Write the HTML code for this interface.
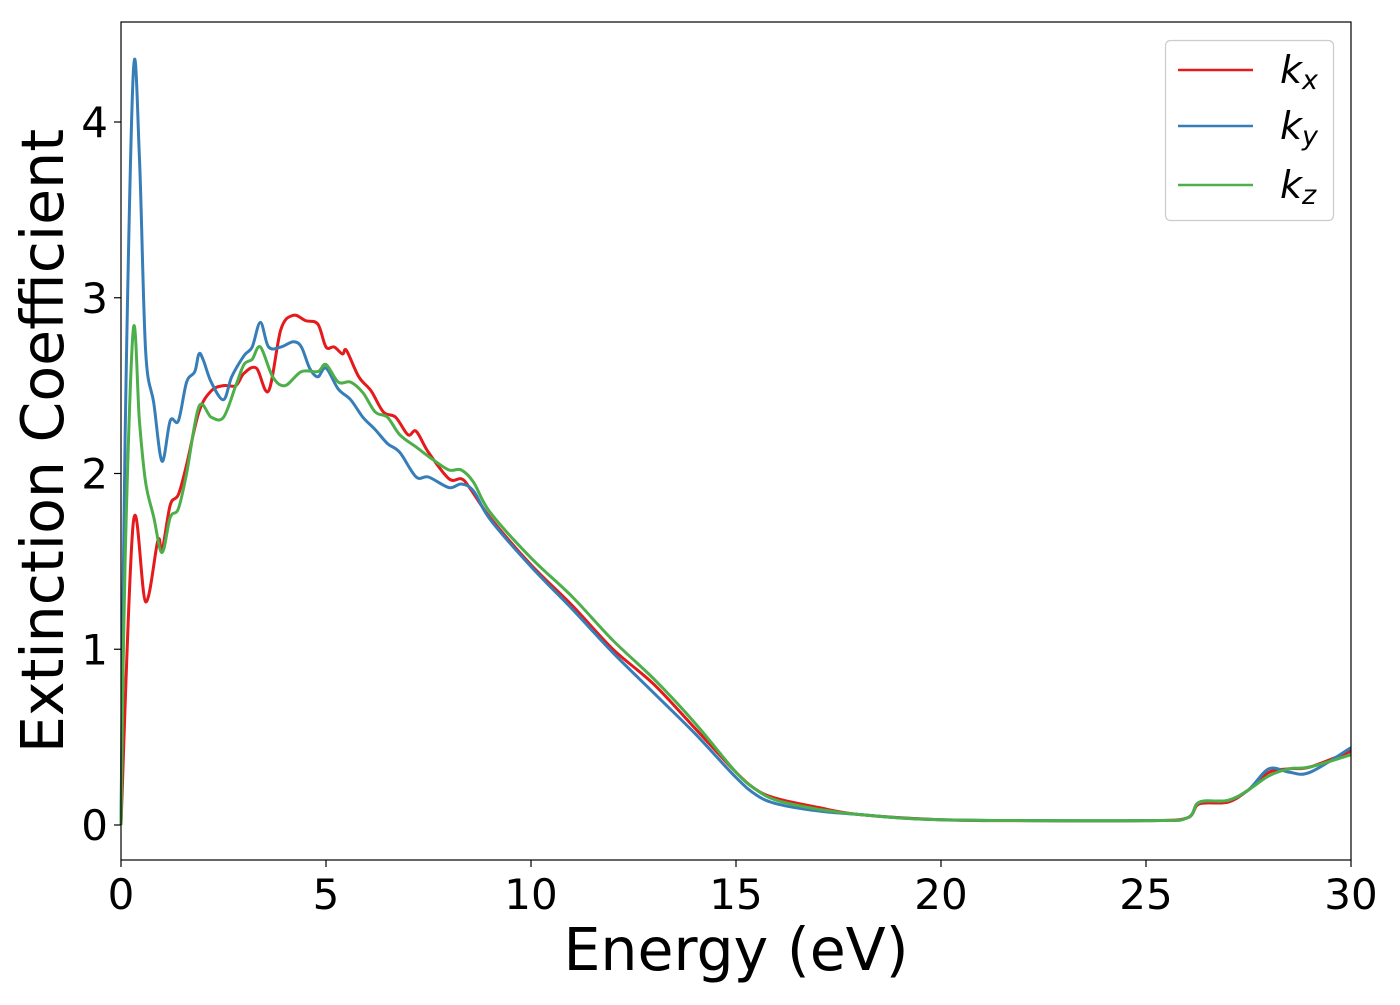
<!DOCTYPE html>
<html><head><meta charset="utf-8"><style>
body{margin:0;background:#fff;}
svg text{font-family:"DejaVu Sans","Liberation Sans",sans-serif;fill:#000;}
</style></head><body>
<svg width="1400" height="1000" viewBox="0 0 1400 1000">
<g id="plot"></g>
<rect x="121" y="22" width="1230" height="838" fill="none" stroke="#000" stroke-width="1.2"/>
<g id="ticks"></g>
<text x="736" y="970" font-size="58.5" text-anchor="middle">Energy (eV)</text>
<text transform="translate(63,441) rotate(-90)" font-size="58.5" text-anchor="middle">Extinction Coefficient</text>
<g>
<rect x="1165.5" y="40.5" width="168" height="180" rx="5" fill="#fff" stroke="#ccc" stroke-width="1.2"/>
<line x1="1178" y1="70" x2="1253" y2="70" stroke="#e41a1c" stroke-width="2.5"/>
<line x1="1178" y1="126" x2="1253" y2="126" stroke="#377eb8" stroke-width="2.5"/>
<line x1="1178" y1="185" x2="1253" y2="185" stroke="#4daf4a" stroke-width="2.5"/>
<text x="1280" y="83" font-size="38" font-style="italic">k<tspan font-size="27" dy="6">x</tspan></text>
<text x="1280" y="139" font-size="38" font-style="italic">k<tspan font-size="27" dy="6">y</tspan></text>
<text x="1280" y="198" font-size="38" font-style="italic">k<tspan font-size="27" dy="6">z</tspan></text>
</g>
</svg>
<script>
const xTicks=[0,5,10,15,20,25,30];
const yTicks=[0,1,2,3,4];
const kxE=[0,0.3,0.6,0.9,1.0,1.2,1.4,1.6,1.9,2.2,2.5,2.8,3.0,3.3,3.6,3.9,4.2,4.5,4.8,5.0,5.2,5.4,5.5,5.8,6.1,6.4,6.7,7.0,7.2,7.5,8.0,8.3,8.5,9,10,11,12,13,14,15,15.5,16,17,18,20,22,25,26,26.3,27,27.5,28,28.5,29,30];
const kxV=[0,1.72,1.27,1.62,1.56,1.82,1.88,2.05,2.35,2.47,2.50,2.50,2.57,2.60,2.47,2.82,2.90,2.87,2.85,2.72,2.72,2.68,2.70,2.55,2.47,2.35,2.32,2.22,2.24,2.12,1.97,1.97,1.92,1.75,1.48,1.25,1.00,0.80,0.55,0.30,0.20,0.15,0.10,0.06,0.03,0.025,0.025,0.04,0.12,0.13,0.20,0.30,0.32,0.33,0.42];
const kyE=[0,0.1,0.3,0.45,0.6,0.8,1.0,1.2,1.4,1.6,1.8,1.9,2.0,2.2,2.5,2.7,3.0,3.2,3.4,3.6,3.9,4.2,4.4,4.6,4.8,5.0,5.3,5.6,5.9,6.2,6.5,6.8,7.2,7.5,8.0,8.3,8.6,9,10,11,12,13,14,15,15.5,16,17,18,20,25,26,26.3,27,27.5,28,28.5,29,30];
const kyV=[0,2.2,4.28,3.8,2.7,2.4,2.07,2.3,2.3,2.52,2.58,2.68,2.65,2.52,2.42,2.55,2.67,2.72,2.86,2.72,2.72,2.75,2.72,2.60,2.55,2.60,2.48,2.42,2.32,2.25,2.17,2.12,1.98,1.98,1.92,1.94,1.90,1.74,1.47,1.23,0.98,0.75,0.52,0.27,0.17,0.12,0.08,0.06,0.03,0.025,0.04,0.13,0.14,0.20,0.32,0.30,0.30,0.44];
const kzE=[0,0.1,0.3,0.45,0.6,0.8,1.0,1.2,1.4,1.6,1.9,2.2,2.5,2.8,3.0,3.2,3.4,3.7,4.0,4.4,4.8,5.0,5.3,5.6,5.9,6.2,6.5,6.8,7.2,7.6,8.0,8.3,8.6,9,10,11,12,13,14,15,15.5,16,17,18,20,25,26,26.3,27,27.5,28,28.5,29,30];
const kzV=[0,1.5,2.82,2.3,1.95,1.75,1.55,1.75,1.80,2.0,2.38,2.32,2.32,2.5,2.62,2.65,2.72,2.55,2.50,2.58,2.58,2.62,2.52,2.52,2.46,2.35,2.32,2.22,2.15,2.08,2.02,2.02,1.95,1.78,1.52,1.30,1.05,0.83,0.58,0.30,0.20,0.14,0.09,0.06,0.03,0.025,0.04,0.13,0.14,0.20,0.28,0.32,0.33,0.40];
const X0=121,X1=1351,Y0=825,YS=175.75;
function sx(e){return X0+(e-0)/(30-0)*(X1-X0);}
function sy(v){return Y0-v*YS;}
const NS='http://www.w3.org/2000/svg';
function pathFor(E,V){
  const p=E.map((e,i)=>[sx(e),sy(V[i])]);
  let d='M'+p[0][0].toFixed(1)+','+p[0][1].toFixed(1);
  for(let i=0;i<p.length-1;i++){
    const a=p[Math.max(i-1,0)],b=p[i],c=p[i+1],n=p[Math.min(i+2,p.length-1)];
    const c1=[b[0]+(c[0]-a[0])/6,b[1]+(c[1]-a[1])/6];
    const c2=[c[0]-(n[0]-b[0])/6,c[1]-(n[1]-b[1])/6];
    d+='C'+c1[0].toFixed(1)+','+c1[1].toFixed(1)+' '+c2[0].toFixed(1)+','+c2[1].toFixed(1)+' '+c[0].toFixed(1)+','+c[1].toFixed(1);
  }
  return d;
}
const plot=document.getElementById('plot');
[[kxE,kxV,'#e41a1c','kx'],[kyE,kyV,'#377eb8','ky'],[kzE,kzV,'#4daf4a','kz']].forEach(s=>{
  const el=document.createElementNS(NS,'path');
  el.setAttribute('d',pathFor(s[0],s[1]));
  el.setAttribute('fill','none');el.setAttribute('stroke',s[2]);el.setAttribute('stroke-width','3');
  
  
  plot.appendChild(el);
});
const tk=document.getElementById('ticks');
xTicks.forEach(t=>{
  const l=document.createElementNS(NS,'line');
  l.setAttribute('x1',sx(t));l.setAttribute('x2',sx(t));l.setAttribute('y1',860);l.setAttribute('y2',867);l.setAttribute('stroke','#000');l.setAttribute('stroke-width','1.2');
  
  
  tk.appendChild(l);
  const tx=document.createElementNS(NS,'text');
  tx.setAttribute('x',sx(t));tx.setAttribute('y',909);tx.setAttribute('font-size','42');tx.setAttribute('text-anchor','middle');
  tx.textContent=t;
  
  
  tk.appendChild(tx);
});
yTicks.forEach(t=>{
  const l=document.createElementNS(NS,'line');
  l.setAttribute('x1',114);l.setAttribute('x2',121);l.setAttribute('y1',sy(t));l.setAttribute('y2',sy(t));l.setAttribute('stroke','#000');l.setAttribute('stroke-width','1.2');
  
  
  tk.appendChild(l);
  const tx=document.createElementNS(NS,'text');
  tx.setAttribute('x',108);tx.setAttribute('y',sy(t)+15);tx.setAttribute('font-size','42');tx.setAttribute('text-anchor','end');
  tx.textContent=t;
  
  
  tk.appendChild(tx);
});
</script>
</body></html>
